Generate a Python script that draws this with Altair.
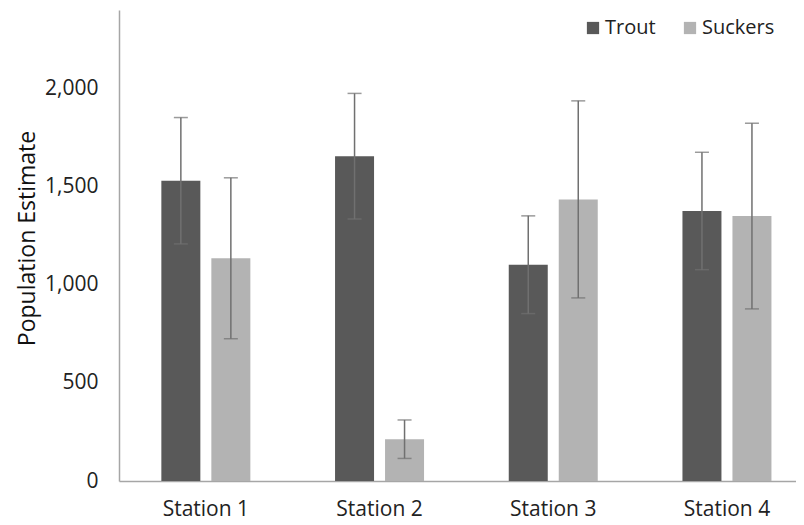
import altair as alt
import pandas as pd

stations = ["Station 1", "Station 2", "Station 3", "Station 4"]
series = ["Trout", "Suckers"]
trout = [1530, 1655, 1102, 1376]
trout_err = [322, 320, 249, 299]
suckers = [1135, 213, 1435, 1350]
suckers_err = [410, 98, 502, 473]
y_ticks = [0, 500, 1000, 1500, 2000]
colors = ["#595959", "#B3B3B3"]

rows = []
for i, s in enumerate(stations):
    rows.append({"station": s, "series": "Trout", "value": trout[i],
                 "lo": trout[i] - trout_err[i], "hi": trout[i] + trout_err[i]})
    rows.append({"station": s, "series": "Suckers", "value": suckers[i],
                 "lo": suckers[i] - suckers_err[i], "hi": suckers[i] + suckers_err[i]})
df = pd.DataFrame(rows)

FONT = "Open Sans"

x_enc = alt.X("station:N", sort=stations,
              scale=alt.Scale(range=[0, 694.8], paddingInner=0, paddingOuter=0),
              axis=alt.Axis(title=None, labelAngle=0, ticks=False, domainColor="#A6A6A6",
                            domainWidth=1.5, labelFontSize=21, labelFont=FONT,
                            labelColor="#222222", labelPadding=17))
xo_enc = alt.XOffset("series:N", sort=series,
                     scale=alt.Scale(paddingInner=0.22, paddingOuter=0.847))
y_scale = alt.Scale(domain=[0, 2400], nice=False)

bars = alt.Chart(df).mark_bar().encode(
    x=x_enc,
    xOffset=xo_enc,
    y=alt.Y("value:Q", scale=y_scale,
            axis=alt.Axis(title="Population Estimate", values=y_ticks, format=",d",
                          grid=False, ticks=False, domainColor="#A6A6A6", domainWidth=1.5,
                          labelFontSize=21, labelFont=FONT, labelColor="#222222",
                          labelPadding=21, titleFont=FONT, titleFontSize=23,
                          titleFontWeight="normal", titleColor="#111111",
                          titleX=-80, titleY=228, titleAngle=270, titleBaseline="bottom",
                          titleAlign="center")),
    color=alt.Color("series:N", sort=series,
                    scale=alt.Scale(domain=series, range=colors),
                    legend=alt.Legend(title=None, orient="none", legendX=464, legendY=8,
                                      direction="horizontal", columns=2, symbolType="square",
                                      symbolSize=150, symbolStrokeWidth=0, labelFont=FONT,
                                      labelFontSize=20, labelColor="#222222",
                                      columnPadding=24, labelOffset=2)),
)

err = alt.Chart(df).mark_rule(color="#707070", strokeWidth=1.5).encode(
    x=alt.X("station:N", sort=stations),
    xOffset=alt.XOffset("series:N", sort=series),
    y=alt.Y("lo:Q"),
    y2="hi:Q",
)
cap_hi = alt.Chart(df).mark_tick(color="#707070", thickness=1.5, size=14, orient="horizontal").encode(
    x=alt.X("station:N", sort=stations),
    xOffset=alt.XOffset("series:N", sort=series),
    y=alt.Y("hi:Q"),
)
cap_lo = alt.Chart(df).mark_tick(color="#707070", thickness=1.5, size=14, orient="horizontal").encode(
    x=alt.X("station:N", sort=stations),
    xOffset=alt.XOffset("series:N", sort=series),
    y=alt.Y("lo:Q"),
)

chart = alt.layer(bars, err, cap_hi, cap_lo).properties(
    width=677, height=471,
    autosize=alt.AutoSizeParams(type="none"),
    padding={"left": 111, "top": 2, "right": 0, "bottom": 42},
    background="white",
).configure_view(strokeWidth=0)

chart.save("out.html", embed_options={"renderer": "svg", "actions": False})
